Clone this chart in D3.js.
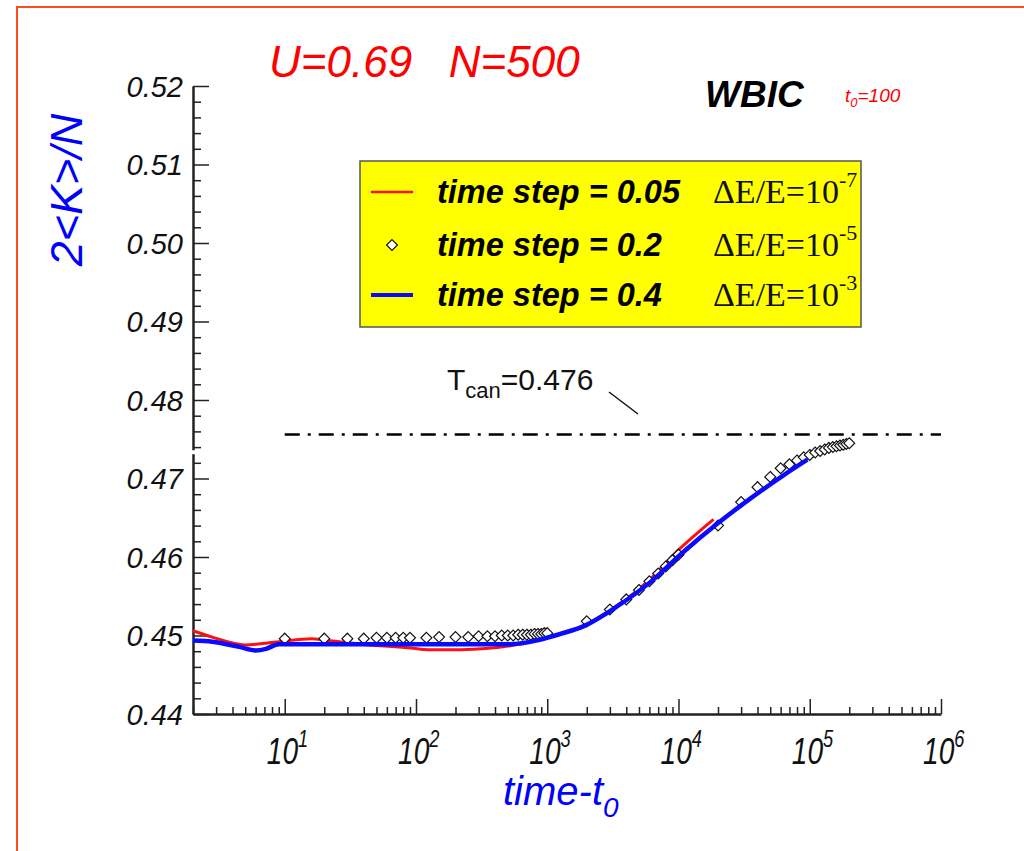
<!DOCTYPE html>
<html>
<head>
<meta charset="utf-8">
<script src="https://cdn.jsdelivr.net/npm/d3@7"></script>
<style>
body { margin: 0; background: #fff; }
svg { display: block; }
</style>
</head>
<body>
<svg width="1024" height="851"></svg>
<script>
// 2<K>/N vs time-t0, WBIC, U=0.69 N=500

// time step = 0.05 (red line)
const redT = [2, 2.8, 5, 9, 16, 20.4, 38, 92, 124, 220, 527, 950, 1700, 3400, 6100, 10000, 14700, 18500];
const redV = [0.4506, 0.4498, 0.4488, 0.4492, 0.4496, 0.4494, 0.4489, 0.4484, 0.4482, 0.4482, 0.4487, 0.4496, 0.4509, 0.4538, 0.4572, 0.4609, 0.4634, 0.4648];

// time step = 0.4 (blue line)
const blueT = [2, 2.8, 4.5, 6, 7.2, 9, 16, 52, 166, 527, 845, 1260, 1900, 3400, 6100, 11000, 19600, 35000, 63000, 96000];
const blueV = [0.44935, 0.4492, 0.44855, 0.4481, 0.4483, 0.4489, 0.4489, 0.4489, 0.4489, 0.4489, 0.4494, 0.4502, 0.4512, 0.4537, 0.4568, 0.4607, 0.4642, 0.4674, 0.4704, 0.4724];

// time step = 0.2 (diamonds)
const diaT = [10, 20, 30, 40, 50, 60, 70, 80, 90,
  120, 150, 200, 250, 300, 350, 400, 450, 500, 550, 600, 650, 700, 750, 800, 850, 900, 950, 1000,
  2000, 3000, 4000, 5000, 6000, 7000, 8000, 9000, 10000,
  20000, 30000, 40000, 50000, 60000, 70000, 80000, 90000, 100000,
  110000, 120000, 130000, 140000, 150000, 160000, 170000, 180000, 190000, 200000];
const diaV = [0.4496, 0.4496, 0.4496, 0.4496, 0.4497, 0.4497, 0.4497, 0.4497, 0.4497,
  0.4497, 0.4498, 0.4498, 0.4498, 0.4499, 0.4499, 0.4499, 0.4500, 0.4500, 0.4500, 0.4501, 0.4501, 0.4501, 0.4501, 0.4502, 0.4502, 0.4502, 0.4503, 0.4503,
  0.4518, 0.4533, 0.4546, 0.4558, 0.4569, 0.4579, 0.4588, 0.4596, 0.4603,
  0.4640, 0.4670, 0.4689, 0.4702, 0.4713, 0.4718, 0.4723, 0.4727, 0.4730,
  0.4733, 0.4735, 0.4737, 0.4739, 0.4740, 0.4741, 0.4742, 0.4743, 0.4744, 0.4745];

// canonical temperature line (as drawn) and its label
const tCanLine = 0.4756;
const tCanLabel = "0.476";
const tCanFrom = 10, tCanTo = 1e6;

const yMajor = [0.44, 0.45, 0.46, 0.47, 0.48, 0.49, 0.50, 0.51, 0.52];
const xMajor = [10, 100, 1000, 10000, 100000, 1000000];
const xExp = ["1", "2", "3", "4", "5", "6"];

const legendNames = ["time step = 0.05", "time step = 0.2", "time step = 0.4"];
const legendExp = ["-7", "-5", "-3"];

const sans = '"Liberation Sans", Arial, sans-serif';
const serif = '"Liberation Serif", "Times New Roman", serif';

const svg = d3.select('svg').style('font-family', sans);

// page frame
svg.append('path')
  .attr('d', 'M17,851 L17,7 L1024,7')
  .attr('fill', 'none').attr('stroke', '#ff4a1c').attr('stroke-width', 2);

const x = d3.scaleLog().domain([2, 1e6]).range([193, 941]);
const y = d3.scaleLinear().domain([0.44, 0.52]).range([714, 86]);

// minor ticks
const yMinor = d3.range(0.44, 0.5201, 0.002).filter(v => Math.abs(v * 100 - Math.round(v * 100)) > 1e-6);
svg.append('g')
  .attr('transform', 'translate(193,0)')
  .call(d3.axisLeft(y).tickValues(yMinor).tickSizeInner(-8).tickSizeOuter(0).tickFormat(''))
  .call(g => g.select('.domain').remove())
  .selectAll('line').attr('stroke', '#222').attr('stroke-width', 1.5);

const xMinor = [];
[1, 10, 100, 1000, 10000, 100000].forEach(d => [2, 3, 4, 5, 6, 7, 8, 9].forEach(k => { if (d * k >= 2) xMinor.push(d * k); }));
svg.append('g')
  .attr('transform', 'translate(0,714)')
  .call(d3.axisBottom(x).tickValues(xMinor).tickSizeInner(-7).tickSizeOuter(0).tickFormat(''))
  .call(g => g.select('.domain').remove())
  .selectAll('line').attr('stroke', '#222').attr('stroke-width', 1.5);

// y axis
const yAxis = svg.append('g')
  .attr('transform', 'translate(193,0)')
  .call(d3.axisLeft(y).tickValues(yMajor).tickSizeInner(-16).tickSizeOuter(0).tickPadding(10).tickFormat(d3.format('.2f')));
yAxis.select('.domain').attr('stroke', '#222').attr('stroke-width', 2.5);
yAxis.selectAll('line').attr('stroke', '#222').attr('stroke-width', 1.5);
yAxis.selectAll('text')
  .attr('font-size', 29).attr('font-style', 'italic').attr('fill', '#111')
  .attr('font-family', sans).attr('dy', '0.36em');

// small break in the y axis
svg.append('rect').attr('x', 190).attr('y', y(0.4736)).attr('width', 6).attr('height', 4).attr('fill', '#fff');

// x axis
const xAxis = svg.append('g')
  .attr('transform', 'translate(0,714)')
  .call(d3.axisBottom(x).tickValues(xMajor).tickSizeInner(-15).tickSizeOuter(0).tickFormat(''));
xAxis.select('.domain').attr('stroke', '#222').attr('stroke-width', 2.5);
xAxis.selectAll('line').attr('stroke', '#222').attr('stroke-width', 1.5);

const xl = svg.append('g').selectAll('g').data(xMajor).join('g')
  .attr('transform', d => `translate(${x(d) - 18},764) scale(0.76,1)`);
xl.append('text')
  .attr('font-size', 37).attr('font-style', 'italic').attr('fill', '#111')
  .text('10')
  .append('tspan').attr('font-size', 24).attr('dy', -17).text((d, i) => xExp[i]);

// T_can reference line
svg.append('line')
  .attr('x1', x(tCanFrom)).attr('x2', x(tCanTo))
  .attr('y1', y(tCanLine)).attr('y2', y(tCanLine))
  .attr('stroke', '#000').attr('stroke-width', 2.5)
  .attr('stroke-dasharray', '15,8,3,8');

const tc = svg.append('text').attr('x', 447).attr('y', 390).attr('font-size', 30).attr('fill', '#111');
tc.append('tspan').text('T');
tc.append('tspan').attr('font-size', 22).attr('dy', 8).text('can');
tc.append('tspan').attr('dy', -8).text('=' + tCanLabel);
svg.append('line').attr('x1', 609).attr('y1', 392).attr('x2', 638).attr('y2', 414)
  .attr('stroke', '#111').attr('stroke-width', 1.5);

// curves
const line = d3.line().x(d => x(d[0])).y(d => y(d[1])).curve(d3.curveMonotoneX);

svg.append('path')
  .datum(redT.map((t, i) => [t, redV[i]]))
  .attr('d', line).attr('fill', 'none').attr('stroke', '#ff1010').attr('stroke-width', 3);

const diamond = d3.symbol().type(d3.symbolDiamond2).size(75);
svg.append('g').selectAll('path').data(diaT.map((t, i) => [t, diaV[i]])).join('path')
  .attr('transform', d => `translate(${x(d[0])},${y(d[1])})`)
  .attr('d', diamond).attr('fill', '#fff').attr('stroke', '#111').attr('stroke-width', 1.2);

svg.append('path')
  .datum(blueT.map((t, i) => [t, blueV[i]]))
  .attr('d', line).attr('fill', 'none').attr('stroke', '#0a0aff').attr('stroke-width', 4.5);

// legend
const lg = svg.append('g');
lg.append('rect').attr('x', 360).attr('y', 161).attr('width', 501).attr('height', 166)
  .attr('fill', '#ffff00').attr('stroke', '#555').attr('stroke-width', 1.5);
const rowY = [192, 245, 295];
lg.append('line').attr('x1', 371).attr('x2', 413).attr('y1', rowY[0]).attr('y2', rowY[0])
  .attr('stroke', '#ff1010').attr('stroke-width', 2.5);
lg.append('path').attr('transform', `translate(392,${rowY[1]})`).attr('d', diamond)
  .attr('fill', '#fff').attr('stroke', '#111').attr('stroke-width', 1.2);
lg.append('line').attr('x1', 371).attr('x2', 413).attr('y1', rowY[2]).attr('y2', rowY[2])
  .attr('stroke', '#0a0aff').attr('stroke-width', 4);
legendNames.forEach((n, i) => {
  lg.append('text').attr('x', 437).attr('y', rowY[i] + 11)
    .attr('font-size', 32.5).attr('font-weight', 'bold').attr('font-style', 'italic').attr('fill', '#000')
    .text(n);
  const t = lg.append('text').attr('x', 713).attr('y', rowY[i] + 11)
    .attr('font-family', serif).attr('font-size', 34).attr('fill', '#111');
  t.append('tspan').text('\u0394E/E=10');
  t.append('tspan').attr('font-size', 22).attr('dy', -16).text(legendExp[i]);
});

// titles
svg.append('text').attr('x', 269).attr('y', 77)
  .attr('font-size', 44).attr('font-style', 'italic').attr('fill', '#ff0000')
  .style('white-space', 'pre')
  .text('U=0.69   N=500');

svg.append('text').attr('x', 705).attr('y', 107)
  .attr('font-size', 37).attr('font-weight', 'bold').attr('font-style', 'italic').attr('fill', '#000')
  .text('WBIC');

const t0 = svg.append('text').attr('x', 845).attr('y', 102)
  .attr('font-size', 19).attr('font-style', 'italic').attr('fill', '#ff0000');
t0.append('tspan').text('t');
t0.append('tspan').attr('font-size', 13).attr('dy', 5).text('0');
t0.append('tspan').attr('dy', -5).text('=100');

svg.append('text')
  .attr('transform', 'translate(82,190) rotate(-90)')
  .attr('text-anchor', 'middle')
  .attr('font-size', 45).attr('font-style', 'italic').attr('fill', '#0000ff')
  .text('2<K>/N');

const xt = svg.append('text').attr('x', 503).attr('y', 805)
  .attr('font-size', 40).attr('font-style', 'italic').attr('fill', '#0000ff');
xt.append('tspan').text('time-t');
xt.append('tspan').attr('font-size', 28).attr('dy', 12).text('0');
</script>
</body>
</html>
